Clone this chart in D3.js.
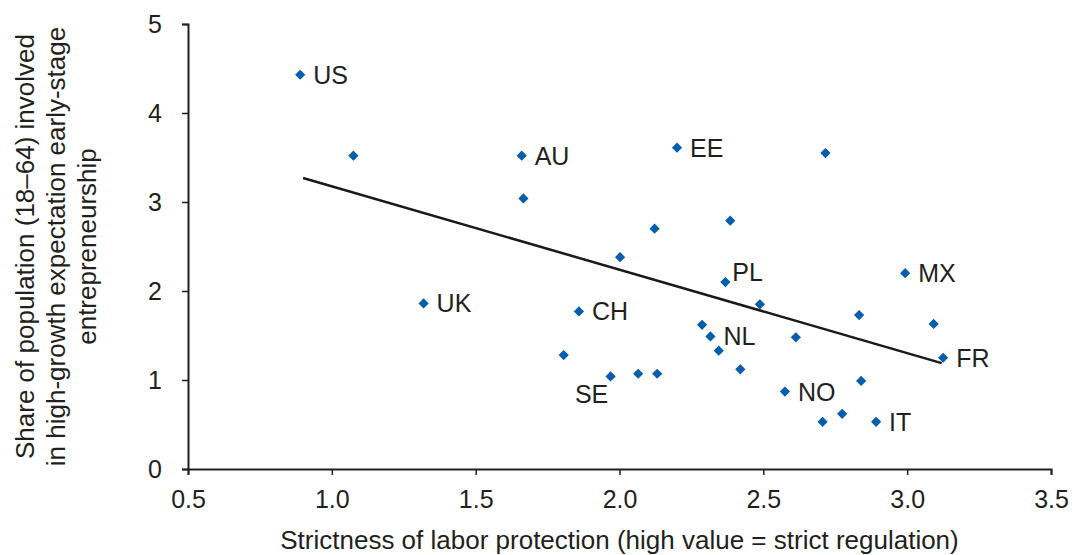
<!DOCTYPE html>
<html>
<head>
<meta charset="utf-8">
<script src="https://cdn.jsdelivr.net/npm/d3@7"></script>
<style>
	html, body { margin: 0; padding: 0; background: #fff; }
	svg { display: block; }
</style>
</head>
<body>
<div id="chart"></div>
<script>
/*Data*/
const countries = ["US", "", "AU", "", "EE", "", "", "", "PL", "", "UK", "CH", "", "SE", "", "", "", "", "", "NL", "", "", "", "NO", "", "", "", "IT", "MX", "", "FR"];
const laborStrictness = [0.89, 1.075, 1.66, 1.666, 2.20, 2.122, 2.002, 2.385, 2.368, 2.716, 1.319, 1.859, 1.806, 1.969, 2.065, 2.131, 2.488, 2.833, 2.287, 2.316, 2.345, 2.613, 2.420, 2.575, 2.840, 2.706, 2.774, 2.892, 2.993, 3.092, 3.125];
const highGrowthShare = [4.43, 3.52, 3.52, 3.04, 3.61, 2.70, 2.38, 2.79, 2.10, 3.55, 1.86, 1.77, 1.28, 1.04, 1.07, 1.07, 1.85, 1.73, 1.62, 1.49, 1.33, 1.48, 1.12, 0.87, 0.99, 0.53, 0.62, 0.53, 2.20, 1.63, 1.25];
const trendX = [0.90, 3.12];
const trendY = [3.27, 1.19];
const xTicks = [0.5, 1.0, 1.5, 2.0, 2.5, 3.0, 3.5];
const yTicks = [0, 1, 2, 3, 4, 5];
const yTitleLines = ["Share of population (18\u201364) involved", "in high-growth expectation early-stage", "entrepreneurship"];
const xTitle = "Strictness of labor protection (high value = strict regulation)";
/////////////////////////////////////////////////////////////////////////////

//STYLING
const width = 1072, height = 555;
const margin = { top: 24, right: 21, bottom: 86, left: 188 };
const blue = "#005eac";
const ink = "#231f20";
const font = "'Liberation Sans', Arial, sans-serif";
const narrow = "'Liberation Sans Narrow', 'Arial Narrow', 'Liberation Sans', sans-serif";

//label placement: most sit to the right of their marker
const labelSpot = { PL: "above", SE: "below" };

const svg = d3.select("#chart").append("svg")
	.attr("width", width)
	.attr("height", height);

const x = d3.scaleLinear()
	.domain([0.5, 3.5])
	.range([margin.left, width - margin.right]);

const y = d3.scaleLinear()
	.domain([0, 5])
	.range([height - margin.bottom, margin.top]);

// axes
const xAxis = svg.append("g")
	.attr("transform", `translate(0,${y(0)})`)
	.call(d3.axisBottom(x).tickValues(xTicks).tickFormat(d3.format(".1f")).tickSize(6).tickPadding(15));

const yAxis = svg.append("g")
	.attr("transform", `translate(${x(0.5)},0)`)
	.call(d3.axisLeft(y).tickValues(yTicks).tickFormat(d3.format("d")).tickSize(6).tickPadding(20));

[xAxis, yAxis].forEach(g => {
	g.select(".domain").attr("stroke", ink).attr("stroke-width", 2);
	g.selectAll(".tick line").attr("stroke", ink).attr("stroke-width", 1.5);
	g.selectAll(".tick text")
		.attr("fill", ink)
		.style("font-family", font)
		.style("font-size", "25px");
});

// trend line
svg.append("line")
	.attr("x1", x(trendX[0])).attr("y1", y(trendY[0]))
	.attr("x2", x(trendX[1])).attr("y2", y(trendY[1]))
	.attr("stroke", "#1a1a1a")
	.attr("stroke-width", 2.5);

// markers
const points = countries.map((c, i) => ({ c, vx: laborStrictness[i], vy: highGrowthShare[i] }));

svg.append("g").selectAll("path")
	.data(points)
	.join("path")
	.attr("d", d3.symbol(d3.symbolSquare, 52))
	.attr("transform", d => `translate(${x(d.vx)},${y(d.vy)}) rotate(45)`)
	.attr("fill", blue);

// country labels
svg.append("g").selectAll("text")
	.data(points.filter(d => d.c))
	.join("text")
	.attr("x", d => x(d.vx) + (labelSpot[d.c] === "below" ? -19 : labelSpot[d.c] === "above" ? 7 : 13))
	.attr("y", d => y(d.vy) + (labelSpot[d.c] === "below" ? 27 : labelSpot[d.c] === "above" ? -1 : 9))
	.attr("text-anchor", d => labelSpot[d.c] === "below" ? "middle" : "start")
	.attr("fill", ink)
	.style("font-family", font)
	.style("font-size", "25px")
	.text(d => d.c);

// axis titles
svg.append("text")
	.attr("x", (x.range()[0] + x.range()[1]) / 2)
	.attr("y", 549)
	.attr("text-anchor", "middle")
	.attr("fill", ink)
	.style("font-family", narrow)
	.style("font-size", "26px")
	.text(xTitle);

const yMid = (y.range()[0] + y.range()[1]) / 2;
svg.append("g").selectAll("text")
	.data(yTitleLines)
	.join("text")
	.attr("transform", (d, i) => `translate(${34 + i * 31},${yMid}) rotate(-90)`)
	.attr("text-anchor", "middle")
	.attr("fill", ink)
	.style("font-family", narrow)
	.style("font-size", "26px")
	.text(d => d);
</script>
</body>
</html>
